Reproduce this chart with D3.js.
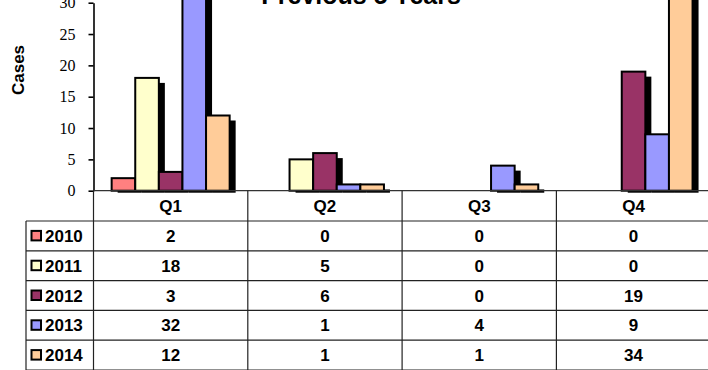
<!DOCTYPE html>
<html>
<head>
<meta charset="utf-8">
<script src="https://cdn.jsdelivr.net/npm/d3@7/dist/d3.min.js"></script>
<style>
  html, body { margin: 0; padding: 0; background: #fff; }
  svg { display: block; }
</style>
</head>
<body>
<svg id="chart" width="708" height="370"></svg>
<script>
// Quarterly case counts for the previous five years
const quarters = ["Q1", "Q2", "Q3", "Q4"];
const years = ["2010", "2011", "2012", "2013", "2014"];
const cases2010 = [2, 0, 0, 0];
const cases2011 = [18, 5, 0, 0];
const cases2012 = [3, 6, 0, 19];
const cases2013 = [32, 1, 4, 9];
const cases2014 = [12, 1, 1, 34];
const yTicks = [0, 5, 10, 15, 20, 25, 30];
const yearColors = ["#FF8080", "#FFFFCC", "#993366", "#9999FF", "#FFCC99"];

const series = [cases2010, cases2011, cases2012, cases2013, cases2014];

const svg = d3.select("#chart");
const plotLeft = 93.5, plotRight = 710.7, baseY = 190.7, topY = 2.7;
const tableLeft = 26, rowH = 29.8, headerBottom = 221;

const x = d3.scaleBand().domain(quarters).range([plotLeft, plotRight]).paddingInner(0).paddingOuter(0);
const xi = d3.scaleBand().domain(years).range([0, x.bandwidth()]).paddingInner(0).paddingOuter(0.769);
const y = d3.scaleLinear().domain([0, 30]).range([baseY, topY]);
const color = d3.scaleOrdinal().domain(years).range(yearColors);

// flattened bar records
const bars = [];
years.forEach((yr, si) => {
  quarters.forEach((q, qi) => {
    bars.push({ year: yr, quarter: q, value: series[si][qi] });
  });
});
const visible = bars.filter(d => d.value > 0);

// title
svg.append("text")
  .attr("x", 361).attr("y", 4)
  .attr("text-anchor", "middle")
  .style("font-family", "'Liberation Sans', Arial, sans-serif")
  .style("font-weight", "bold")
  .style("font-size", "25px")
  .text("Previous 5 Years");

// y axis title
svg.append("text")
  .attr("transform", "translate(24,70) rotate(-90)")
  .attr("text-anchor", "middle")
  .style("font-family", "'Liberation Sans', Arial, sans-serif")
  .style("font-weight", "bold")
  .style("font-size", "17px")
  .text("Cases");

// drop shadows behind bars
svg.append("g").selectAll("rect").data(visible).enter().append("rect")
  .attr("x", d => x(d.quarter) + xi(d.year) + 6)
  .attr("y", d => y(d.value) + 5)
  .attr("width", xi.bandwidth())
  .attr("height", d => Math.max(0, baseY + 2 - (y(d.value) + 5)))
  .attr("fill", "#000");

// bars
svg.append("g").selectAll("rect").data(visible).enter().append("rect")
  .attr("x", d => x(d.quarter) + xi(d.year))
  .attr("y", d => y(d.value))
  .attr("width", xi.bandwidth())
  .attr("height", d => baseY - y(d.value))
  .attr("fill", d => color(d.year))
  .attr("stroke", "#000")
  .attr("stroke-width", 2);

// y axis
const yAxis = d3.axisLeft(y).tickValues(yTicks).tickSize(5).tickPadding(13).tickSizeOuter(0);
const gy = svg.append("g").attr("transform", `translate(${plotLeft},0)`).call(yAxis);
gy.select(".domain").attr("stroke", "#000").attr("stroke-width", 1.6);
gy.selectAll(".tick line").attr("stroke", "#000").attr("stroke-width", 1.6);
gy.selectAll(".tick text")
  .style("font-family", "'Liberation Serif', 'Times New Roman', serif")
  .style("font-size", "16px")
  .attr("fill", "#000");

// category baseline
svg.append("line")
  .attr("x1", plotLeft).attr("x2", plotRight)
  .attr("y1", baseY).attr("y2", baseY)
  .attr("stroke", "#333").attr("stroke-width", 1.3);

// data table
const table = svg.append("g");
const lineColor = "#222";
const tableBottom = headerBottom + rowH * years.length;

// vertical grid of the table
const vLines = [plotLeft].concat(quarters.map(q => x(q) + x.bandwidth()));
table.selectAll("line.v").data(vLines).enter().append("line")
  .attr("x1", d => d).attr("x2", d => d)
  .attr("y1", baseY).attr("y2", tableBottom)
  .attr("stroke", lineColor).attr("stroke-width", 1.2);
table.append("line")
  .attr("x1", tableLeft).attr("x2", tableLeft)
  .attr("y1", headerBottom).attr("y2", tableBottom)
  .attr("stroke", lineColor).attr("stroke-width", 1.2);

// horizontal grid of the table
const hLines = d3.range(years.length + 1).map(i => headerBottom + i * rowH);
table.selectAll("line.h").data(hLines).enter().append("line")
  .attr("x1", tableLeft).attr("x2", plotRight)
  .attr("y1", d => d).attr("y2", d => d)
  .attr("stroke", lineColor).attr("stroke-width", 1.2);

const cellFont = sel => sel
  .style("font-family", "'Liberation Sans', Arial, sans-serif")
  .style("font-weight", "bold")
  .style("font-size", "17px")
  .attr("fill", "#000");

// header labels
table.selectAll("text.q").data(quarters).enter().append("text")
  .attr("x", d => x(d) + x.bandwidth() / 2)
  .attr("y", (baseY + headerBottom) / 2 + 6)
  .attr("text-anchor", "middle")
  .call(cellFont)
  .text(d => d);

// row legends and values
years.forEach((yr, si) => {
  const cy = headerBottom + rowH * si + rowH / 2;
  table.append("rect")
    .attr("x", 31.5).attr("y", cy - 5)
    .attr("width", 9.5).attr("height", 9.5)
    .attr("fill", color(yr))
    .attr("stroke", "#000").attr("stroke-width", 2);
  table.append("text")
    .attr("x", 45).attr("y", cy + 6)
    .call(cellFont)
    .text(yr);
  table.selectAll(null).data(quarters).enter().append("text")
    .attr("x", d => x(d) + x.bandwidth() / 2)
    .attr("y", cy + 6)
    .attr("text-anchor", "middle")
    .call(cellFont)
    .text((d, qi) => series[si][qi]);
});
</script>
</body>
</html>
